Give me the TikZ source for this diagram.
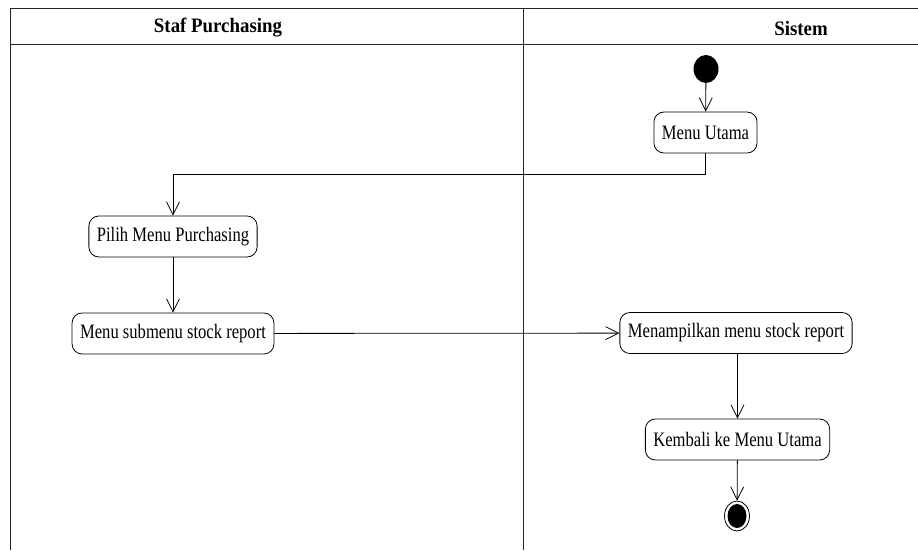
\documentclass[tikz,border=0pt]{standalone}
\usepackage{fontspec}
\setmainfont{Liberation Serif}
\newfontfamily\bodyfont[FakeStretch=0.81]{Liberation Serif}
\newfontfamily\lanefont[FakeStretch=0.92]{Liberation Serif}
\usetikzlibrary{shapes.geometric, arrows.meta, positioning}

\tikzset{
    activity/.style={rectangle, draw, rounded corners=10pt, minimum height=41pt,
        inner xsep=8pt, line width=0.8pt, font=\bodyfont\fontsize{20.5}{22}\selectfont},
    lane/.style={font=\lanefont\bfseries\fontsize{20.5}{22}\selectfont},
    flow/.style={-{Straight Barb[length=13pt, width=13pt]}, line width=0.8pt},
    frame/.style={line width=0.9pt, draw=black!85}
}

\begin{document}
\begin{tikzpicture}[x=1pt, y=-1pt]
    \useasboundingbox (0,0) rectangle (918,550);

    % swimlanes
    \draw[frame] (918,8.5) -- (10.5,8.5) -- (10.5,550);
    \draw[frame] (10.5,44.5) -- (918,44.5);
    \draw[frame] (523,8.5) -- (523,550);
    \node [lane] (staf) at (218,28) {Staf Purchasing};
    \node [lane] (sistem) at (801,28) {Sistem};

    % activities
    \node [ellipse, fill=black, minimum width=25pt, minimum height=28pt, inner sep=0pt] (start) at (706,69) {};
    \node [activity] (utama) at (705.5,132.5) {Menu Utama};
    \node [activity] (pilih) at (173,236.5) {Pilih Menu Purchasing};
    \node [activity] (submenu) at (173,333.5) {Menu submenu stock report};
    \node [activity] (tampil) at (736,333) {Menampilkan menu stock report};
    \node [activity] (kembali) at (737.5,439.5) {Kembali ke Menu Utama};
    \node [ellipse, draw, line width=0.8pt, minimum width=25pt, minimum height=30pt, inner sep=0pt] (finish) at (737,516) {};
    \node [ellipse, fill=black, minimum width=19pt, minimum height=24pt, inner sep=0pt] (finishdot) at (finish.center) {};

    \coordinate (turn) at (0,174);

    \draw[flow] (start) -- (utama);
    \draw[flow] (utama.south) -- (utama.south |- turn) -| (pilih.north);
    \draw[flow] (pilih) -- (submenu);
    \draw[flow] (submenu) -- (tampil);
    \draw[flow] (tampil.south -| kembali.north) -- (kembali.north);
    \draw[flow] (kembali) -- (finish);
\end{tikzpicture}
\end{document}
